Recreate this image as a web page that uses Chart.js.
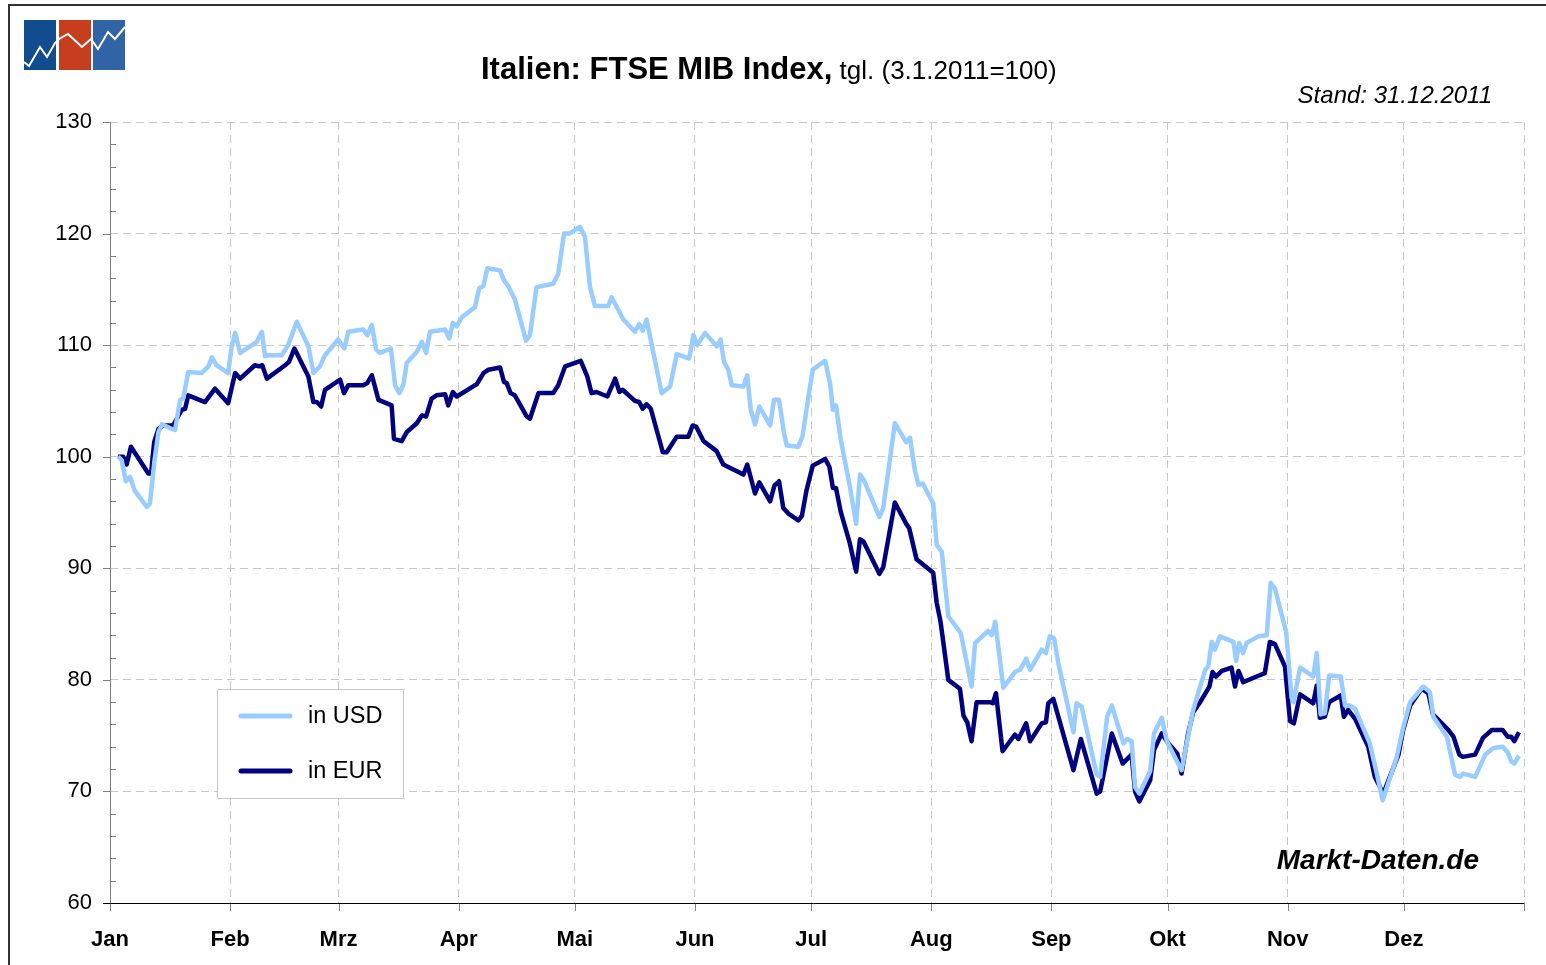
<!DOCTYPE html>
<html><head><meta charset="utf-8">
<script src="https://cdn.jsdelivr.net/npm/chart.js@4.4.1/dist/chart.umd.min.js"></script>
<style>html,body{margin:0;padding:0;background:#fff;}#wrap{width:1546px;height:965px;position:relative;}</style>
</head><body><div id="wrap"><canvas id="c" width="1546" height="965"></canvas></div>
<script>
// ---- data ----
const monthLabels = ['Jan','Feb','Mrz','Apr','Mai','Jun','Jul','Aug','Sep','Okt','Nov','Dez',''];
const monthStartDays = [0,31,59,90,120,151,181,212,243,273,304,334,365];
const yTickValues = [60,70,80,90,100,110,120,130];
const seriesLabels = ['in USD','in EUR'];

// day of year 2011 (0 = 1 Jan), index 3.1.2011 = 100
const usdDays = [2.1,3.0,4.1,5.2,6.3,9.5,10.3,11.4,12.5,13.4,
15.9,16.8,18.1,18.9,20.2,23.7,25.4,26.3,27.5,30.5,
31.4,32.3,33.6,37.9,39.2,40.0,40.9,44.3,46.0,48.2,
51.2,52.5,54.2,55.5,58.9,60.5,61.5,65.4,66.4,67.6,
68.7,69.7,72.5,73.6,74.7,75.7,76.6,79.2,80.5,81.6,
82.6,86.5,87.6,88.5,89.5,90.8,94.2,95.3,96.4,97.4,
100.7,101.7,102.8,104.5,107.4,108.4,110.1,114.4,115.7,117.2,
118.6,121.3,122.6,123.9,125.2,128.6,129.5,132.5,135.5,136.6,
137.5,138.5,142.4,144.6,146.3,149.5,150.6,151.6,153.6,156.6,
157.6,158.5,159.6,160.5,163.5,164.5,165.4,166.5,167.6,170.4,
171.4,172.7,174.0,174.7,177.7,178.8,180.3,181.4,184.6,185.9,
186.6,187.4,188.6,191.0,192.6,193.6,194.6,198.6,199.6,202.6,
205.5,206.5,207.8,208.7,209.8,212.5,213.4,214.7,216.4,219.6,
221.0,222.4,223.3,226.7,227.6,228.5,230.6,233.6,234.9,236.5,
237.5,240.5,241.6,242.6,243.7,244.8,248.7,249.5,250.8,254.7,
255.6,257.4,258.6,261.6,262.6,263.7,264.6,265.7,268.5,269.5,
271.5,272.8,276.6,279.6,282.7,283.5,284.4,285.2,286.5,290.0,
290.7,291.5,292.5,293.4,296.4,298.6,299.6,300.7,303.6,305.0,
305.5,307.2,310.6,311.5,312.5,313.6,314.7,317.7,318.8,320.1,
321.4,325.2,327.0,328.5,332.1,333.8,335.6,339.0,340.7,341.6,
345.1,347.2,348.5,349.3,352.4,355.0,357.1,359.5,360.8,361.7,
362.5,363.7];
const usdValues = [100.0,99.7,97.8,98.2,97.0,95.5,95.8,99.4,102.2,102.9,
102.5,102.4,105.1,105.2,107.6,107.5,108.1,108.9,108.2,107.5,
109.9,111.1,109.3,110.3,111.2,109.0,109.1,109.1,110.0,112.1,
109.9,107.5,108.1,109.1,110.5,109.7,111.2,111.4,110.9,111.8,
109.6,109.3,109.7,106.4,105.7,106.4,108.4,109.4,110.3,109.3,
111.2,111.4,110.6,112.0,111.7,112.5,113.4,115.1,115.3,116.9,
116.7,115.8,115.3,114.1,110.4,110.9,115.2,115.5,116.4,120.0,
120.0,120.6,119.7,115.2,113.5,113.5,114.3,112.3,111.2,111.9,
111.3,112.3,105.7,106.3,109.2,108.8,110.9,110.0,111.1,109.9,
110.5,108.5,107.8,106.4,106.3,107.3,104.2,102.9,104.5,102.8,
105.1,105.1,102.1,101.0,100.9,101.9,105.4,107.8,108.6,106.5,
104.2,104.6,101.6,97.3,94.0,98.4,97.9,94.6,95.4,103.0,
101.3,101.7,98.7,97.5,97.6,95.8,92.1,91.5,85.7,84.2,
81.8,79.4,83.3,84.4,84.0,85.2,79.3,80.7,80.9,81.9,
80.9,82.7,82.4,83.9,83.7,81.5,75.3,77.9,77.6,71.5,
71.3,76.7,77.7,74.3,74.7,74.5,70.4,69.8,71.8,75.2,
76.6,74.5,71.9,77.3,80.9,81.2,83.4,82.7,83.9,83.4,
81.7,83.3,82.4,83.3,83.9,84.0,88.7,88.2,84.3,78.4,
78.0,81.1,80.3,82.4,76.9,77.0,80.4,80.3,77.7,77.7,
77.4,74.3,71.6,69.2,73.0,75.7,78.0,79.4,78.9,76.7,
74.9,71.5,71.3,71.6,71.3,73.3,73.9,74.0,73.5,72.7,
72.5,73.2];

const eurDays = [2.1,3.4,4.3,5.4,9.9,10.6,11.4,12.5,13.8,16.3,
18.5,19.4,20.2,24.5,27.1,30.5,32.3,33.6,37.4,38.5,
39.3,40.5,45.2,46.2,47.6,51.2,52.5,53.4,54.5,55.5,
59.4,60.4,61.5,65.4,66.4,67.6,69.3,72.7,73.3,75.3,
76.6,79.2,80.5,81.6,83.0,84.3,86.5,87.3,88.5,89.5,
94.7,96.4,97.7,100.7,101.7,102.4,103.4,104.5,107.6,108.4,
110.6,114.4,115.7,117.5,121.5,123.2,124.3,125.6,128.4,130.4,
131.5,132.3,135.5,136.6,137.5,138.5,139.6,142.7,143.7,146.3,
149.3,150.4,151.3,153.2,156.6,158.3,163.5,164.5,166.5,167.6,
170.4,171.5,172.7,173.8,175.1,177.7,178.6,179.8,181.4,184.6,
185.7,186.6,187.4,188.6,191.0,192.6,193.6,194.5,198.6,199.6,
202.6,205.5,206.3,208.2,212.5,213.4,214.4,216.4,219.4,220.3,
221.3,222.4,223.7,227.2,227.9,228.7,230.4,233.6,234.5,236.5,
237.5,240.5,241.6,242.2,243.5,248.7,250.6,254.7,255.6,258.6,
261.4,263.7,264.6,265.7,268.5,269.5,271.5,273.2,275.5,276.6,
278.3,279.6,281.4,283.8,284.6,285.5,287.0,289.5,290.4,291.3,
292.5,296.0,298.1,299.4,300.7,303.3,304.6,305.6,307.2,310.6,
311.5,312.3,313.6,314.7,317.7,318.5,319.6,321.4,324.8,326.5,
328.7,332.6,333.8,335.6,338.6,340.3,341.5,345.5,346.8,348.3,
349.2,352.4,354.4,356.7,359.5,360.8,361.7,362.5,363.7];
const eurValues = [100.0,100.0,99.3,100.9,98.5,98.5,101.3,102.5,102.8,102.8,
104.2,104.3,105.5,104.9,106.1,104.8,107.5,107.0,108.2,108.1,
108.2,107.0,108.2,108.5,109.7,107.2,104.9,104.9,104.5,106.0,
106.9,105.7,106.4,106.4,106.6,107.3,105.1,104.6,101.6,101.4,
102.2,103.0,103.7,103.6,105.2,105.5,105.6,104.6,105.8,105.4,
106.5,107.5,107.8,108.0,106.7,106.6,105.7,105.5,103.6,103.4,
105.7,105.7,106.4,108.1,108.6,107.2,105.7,105.8,105.4,107.0,
105.8,106.0,105.0,104.9,104.3,104.7,104.3,100.4,100.4,101.8,
101.8,102.8,102.7,101.4,100.5,99.3,98.4,99.3,96.7,97.7,
96.0,97.4,97.8,95.4,94.9,94.3,94.7,97.0,99.2,99.8,
99.1,97.2,97.2,95.1,92.2,89.7,92.6,92.4,89.5,90.1,
95.9,94.0,93.6,90.8,89.6,86.9,85.2,80.0,79.2,76.8,
76.2,74.5,78.0,78.0,77.9,78.8,73.6,75.1,74.7,76.1,
74.5,76.1,76.2,77.9,78.3,71.9,74.7,69.8,70.0,75.2,
72.5,73.3,70.0,69.1,71.0,73.7,75.2,74.3,73.4,71.6,
75.2,77.1,78.0,79.4,80.7,80.3,80.8,81.1,79.4,80.8,
79.8,80.3,80.6,83.4,83.2,81.2,76.3,76.1,78.7,77.9,
79.5,76.6,76.7,78.0,78.6,76.7,77.3,76.5,74.0,71.3,
69.8,73.3,75.5,77.7,79.2,78.8,76.9,75.5,74.9,73.3,
73.1,73.3,74.8,75.5,75.5,74.9,74.9,74.5,75.3];

const USD_COLOR = '#99ccff';
const EUR_COLOR = '#000080';
const FONT = '"Liberation Sans", Arial, Helvetica, sans-serif';

const toPoints = (xs, ys) => xs.map((x, i) => ({x: x, y: ys[i]}));

const decorPlugin = {
  id: 'decor',
  beforeDraw(chart) {
    const ctx = chart.ctx;
    ctx.save();
    ctx.fillStyle = '#ffffff';
    ctx.fillRect(0, 0, chart.width, chart.height);
    ctx.restore();
  },
  afterDraw(chart) {
    const ctx = chart.ctx;
    const ca = chart.chartArea;
    const xs = chart.scales.x, ys = chart.scales.y;
    ctx.save();
    // y axis line
    ctx.strokeStyle = '#808080';
    ctx.lineWidth = 1;
    ctx.beginPath();
    ctx.moveTo(Math.round(ca.left) + 0.5, ca.top);
    ctx.lineTo(Math.round(ca.left) + 0.5, ca.bottom + 8);
    ctx.stroke();
    // minor ticks every 2 (inward), major ticks every 10 (outward)
    for (let v = 60; v <= 130; v += 2) {
      const y = Math.round(ys.getPixelForValue(v)) + 0.5;
      ctx.beginPath();
      if (v % 10 === 0) { ctx.moveTo(ca.left - 7, y); ctx.lineTo(ca.left, y); }
      else { ctx.moveTo(ca.left, y); ctx.lineTo(ca.left + 6, y); }
      ctx.stroke();
    }
    // x ticks
    monthStartDays.forEach(d => {
      const x = Math.round(xs.getPixelForValue(d)) + 0.5;
      ctx.beginPath(); ctx.moveTo(x, ca.bottom); ctx.lineTo(x, ca.bottom + 8); ctx.stroke();
    });
    // x axis line
    ctx.strokeStyle = '#000000';
    ctx.beginPath();
    ctx.moveTo(ca.left - 7, Math.round(ca.bottom) + 0.5);
    ctx.lineTo(ca.right, Math.round(ca.bottom) + 0.5);
    ctx.stroke();

    // title
    ctx.fillStyle = '#000';
    ctx.textBaseline = 'alphabetic';
    ctx.textAlign = 'left';
    ctx.font = 'bold 31px ' + FONT;
    const t1 = 'Italien: FTSE MIB Index,';
    ctx.fillText(t1, 481, 79);
    const w1 = ctx.measureText(t1).width;
    ctx.font = '26px ' + FONT;
    ctx.fillText(' tgl. (3.1.2011=100)', 481 + w1, 79);
    ctx.font = 'italic 24px ' + FONT;
    ctx.textAlign = 'right';
    ctx.fillText('Stand: 31.12.2011', 1492, 103);
    ctx.font = 'italic bold 28px ' + FONT;
    ctx.fillText('Markt-Daten.de', 1479, 869);

    // legend
    ctx.textAlign = 'left';
    ctx.fillStyle = '#ffffff';
    ctx.fillRect(217, 689, 186, 109);
    ctx.strokeStyle = '#c8c8c8';
    ctx.lineWidth = 1;
    ctx.strokeRect(217.5, 689.5, 186, 109);
    const ds = chart.data.datasets;
    [[716, 0], [771, 1]].forEach(([y, i]) => {
      ctx.strokeStyle = ds[i].borderColor;
      ctx.lineWidth = 5;
      ctx.lineCap = 'round';
      ctx.beginPath(); ctx.moveTo(241, y); ctx.lineTo(290, y); ctx.stroke();
      ctx.fillStyle = '#000';
      ctx.font = '23.5px ' + FONT;
      ctx.textBaseline = 'middle';
      ctx.fillText(ds[i].label, 308, y + 1);
    });

    // logo
    ctx.lineCap = 'butt';
    ctx.fillStyle = '#114d8e'; ctx.fillRect(24, 20, 32, 50);
    ctx.fillStyle = '#c63e1e'; ctx.fillRect(59, 20, 32, 50);
    ctx.fillStyle = '#3064a6'; ctx.fillRect(93, 20, 32, 50);
    ctx.strokeStyle = '#ffffff';
    ctx.lineWidth = 2;
    ctx.lineJoin = 'miter';
    const zz = [[24,62],[29,66],[40,47],[47,57],[55,43],[59,39],[68,34],[82,47],[91,39],[98,49],[108,32],[115,39],[125,27]];
    ctx.beginPath();
    zz.forEach((p, i) => i ? ctx.lineTo(p[0], p[1]) : ctx.moveTo(p[0], p[1]));
    ctx.stroke();

    // frame
    ctx.strokeStyle = '#333333';
    ctx.lineWidth = 2;
    ctx.beginPath();
    ctx.moveTo(9, 965); ctx.lineTo(9, 5); ctx.lineTo(1546, 5);
    ctx.stroke();
    ctx.restore();
  }
};

new Chart(document.getElementById('c'), {
  type: 'line',
  data: {
    datasets: [
      {label: seriesLabels[0], data: toPoints(usdDays, usdValues), borderColor: USD_COLOR, backgroundColor: USD_COLOR, borderWidth: 4.5, pointRadius: 0, tension: 0, borderJoinStyle: 'round'},
      {label: seriesLabels[1], data: toPoints(eurDays, eurValues), borderColor: EUR_COLOR, backgroundColor: EUR_COLOR, borderWidth: 4.5, pointRadius: 0, tension: 0, borderJoinStyle: 'round'}
    ]
  },
  options: {
    responsive: false,
    animation: false,
    devicePixelRatio: 1,
    layout: {padding: {left: 0, right: 22, top: 122, bottom: 0}},
    plugins: {legend: {display: false}, title: {display: false}, tooltip: {enabled: false}},
    scales: {
      x: {
        type: 'linear', min: 0, max: 365,
        afterBuildTicks: s => { s.ticks = monthStartDays.map(v => ({value: v})); },
        afterFit: s => { s.height = 62; s.paddingRight = 0; s.paddingLeft = 0; },
        ticks: {
          autoSkip: false, maxRotation: 0, minRotation: 0, padding: 24,
          color: '#000', font: {family: FONT, size: 22, weight: 'bold'},
          callback: (v, i) => monthLabels[i]
        },
        grid: {color: '#c8c8c8', lineWidth: 1, drawTicks: false},
        border: {display: false, dash: [8, 5]}
      },
      y: {
        min: 60, max: 130,
        afterBuildTicks: s => { s.ticks = yTickValues.map(v => ({value: v})); },
        afterFit: s => { s.width = 110; },
        ticks: {padding: 18, color: '#000', font: {family: FONT, size: 22}},
        grid: {color: '#c8c8c8', lineWidth: 1, drawTicks: false},
        border: {display: false, dash: [8, 5]}
      }
    }
  },
  plugins: [decorPlugin]
});
</script>
</body></html>
